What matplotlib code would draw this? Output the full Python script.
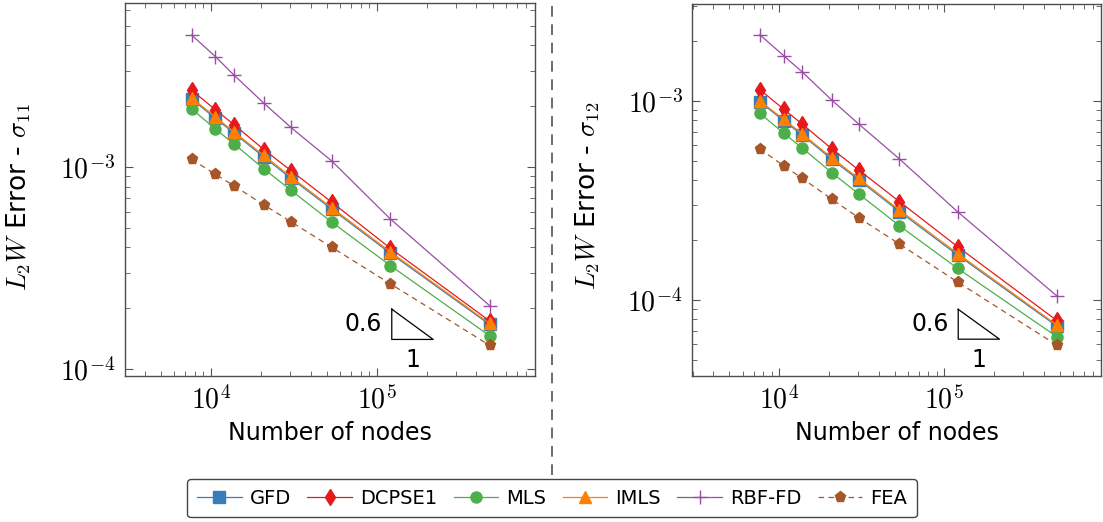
"""Convergence plots of L2W stress error vs number of nodes."""

import matplotlib

matplotlib.use("Agg")
import matplotlib.pyplot as plt
import numpy as np
from matplotlib.lines import Line2D
from matplotlib.ticker import FuncFormatter, LogLocator

plt.rcParams["font.family"] = ["DejaVu Sans"]
plt.rcParams["mathtext.fontset"] = "cm"

methods = ["GFD", "DCPSE1", "MLS", "IMLS", "RBF-FD", "FEA"]
nodes = [7640, 10640, 13770, 20840, 30340, 53580, 120800, 479700]

# sigma_11
s11_gfd = [2.17e-3, 1.74e-3, 1.47e-3, 1.12e-3, 8.80e-4, 6.18e-4, 3.74e-4, 1.66e-4]
s11_dcpse = [2.40e-3, 1.92e-3, 1.62e-3, 1.22e-3, 9.60e-4, 6.69e-4, 3.96e-4, 1.73e-4]
s11_mls = [1.94e-3, 1.54e-3, 1.30e-3, 9.80e-4, 7.67e-4, 5.33e-4, 3.25e-4, 1.46e-4]
s11_imls = [2.20e-3, 1.77e-3, 1.49e-3, 1.14e-3, 8.95e-4, 6.28e-4, 3.80e-4, 1.68e-4]
s11_rbf = [4.50e-3, 3.52e-3, 2.85e-3, 2.07e-3, 1.57e-3, 1.07e-3, 5.53e-4, 2.06e-4]
s11_fea = [1.09e-3, 9.20e-4, 8.07e-4, 6.49e-4, 5.36e-4, 4.00e-4, 2.64e-4, 1.31e-4]

# sigma_12
s12_gfd = [9.90e-4, 7.96e-4, 6.75e-4, 5.09e-4, 4.01e-4, 2.78e-4, 1.68e-4, 7.40e-5]
s12_dcpse = [1.14e-3, 9.10e-4, 7.66e-4, 5.75e-4, 4.50e-4, 3.12e-4, 1.85e-4, 7.90e-5]
s12_mls = [8.67e-4, 6.89e-4, 5.81e-4, 4.36e-4, 3.41e-4, 2.36e-4, 1.44e-4, 6.55e-5]
s12_imls = [1.00e-3, 8.10e-4, 6.85e-4, 5.18e-4, 4.08e-4, 2.83e-4, 1.71e-4, 7.50e-5]
s12_rbf = [2.15e-3, 1.69e-3, 1.40e-3, 1.01e-3, 7.66e-4, 5.11e-4, 2.77e-4, 1.05e-4]
s12_fea = [5.74e-4, 4.73e-4, 4.09e-4, 3.21e-4, 2.59e-4, 1.91e-4, 1.23e-4, 5.94e-5]

slope = 0.6

STYLES = {
    "GFD": dict(color="#377eb8", marker="s", ms=8.5, ls="-"),
    "DCPSE1": dict(color="#e41a1c", marker="d", ms=8.5, ls="-"),
    "MLS": dict(color="#4daf4a", marker="o", ms=8, ls="-"),
    "IMLS": dict(color="#ff7f00", marker="^", ms=8.5, ls="-"),
    "RBF-FD": dict(color="#984ea3", marker="+", ms=10, ls="-", mew=1.0),
    "FEA": dict(color="#a65628", marker="p", ms=8, ls=(0, (4.5, 3.5))),
}


def _decade(v, _pos):
    return f"$10^{{{int(round(np.log10(v)))}}}$"


def _slope_triangle(ax, x0, y_top, width_dec):
    x1 = x0 * 10 ** width_dec
    y_bot = y_top * (x0 / x1) ** slope
    ax.plot([x0, x0, x1, x0], [y_top, y_bot, y_bot, y_top], color="black", lw=0.9, zorder=5)
    ax.annotate(f"{slope:g}", (x0, np.sqrt(y_top * y_bot)), xytext=(-7, 0), textcoords="offset points",
                ha="right", va="center", fontsize=17)
    ax.annotate("1", (np.sqrt(x0 * x1), y_bot), xytext=(0, -6), textcoords="offset points",
                ha="center", va="top", fontsize=17)


def _panel(ax, series, ylabel, xlim, ylim, tri):
    for name, vals in zip(methods, series):
        st = STYLES[name]
        ax.plot(nodes, vals, color=st["color"], marker=st["marker"], ms=st["ms"], ls=st["ls"],
                lw=0.9, mew=st.get("mew", 1.0), label=name)
    ax.set_xscale("log")
    ax.set_yscale("log")
    ax.set_xlim(*xlim)
    ax.set_ylim(*ylim)
    ax.xaxis.set_major_locator(LogLocator(base=10))
    ax.yaxis.set_major_locator(LogLocator(base=10))
    ax.xaxis.set_major_formatter(FuncFormatter(_decade))
    ax.yaxis.set_major_formatter(FuncFormatter(_decade))
    ax.tick_params(which="both", direction="in", top=True, right=True, color="#555555")
    ax.tick_params(which="major", length=5.5, labelsize=20, pad=7)
    ax.tick_params(which="minor", length=3.5)
    for sp in ax.spines.values():
        sp.set_color("#4d4d4d")
        sp.set_linewidth(1.0)
    ax.set_xlabel("Number of nodes", fontsize=17, labelpad=5)
    ax.set_ylabel(ylabel, fontsize=19)
    _slope_triangle(ax, *tri)


fig = plt.figure(figsize=(11.03, 5.22), dpi=100)
ax1 = fig.add_axes([0.1133, 0.2797, 0.3717, 0.7146])
ax2 = fig.add_axes([0.6278, 0.2797, 0.3704, 0.7126])

_panel(ax1, [s11_gfd, s11_dcpse, s11_mls, s11_imls, s11_rbf, s11_fea],
       r"$L_2W$ Error - $\sigma_{11}$", (10 ** 3.481, 10 ** 5.955), (10 ** -4.035, 10 ** -2.188),
       (10 ** 5.091, 10 ** -3.704, 0.25))
_panel(ax2, [s12_gfd, s12_dcpse, s12_mls, s12_imls, s12_rbf, s12_fea],
       r"$L_2W$ Error - $\sigma_{12}$", (10 ** 3.475, 10 ** 5.95), (10 ** -4.382, 10 ** -2.513),
       (10 ** 5.085, 10 ** -4.047, 0.25))
ax1.yaxis.set_label_coords(-0.224, 0.48)
ax2.yaxis.set_label_coords(-0.2215, 0.485)

fig.add_artist(Line2D([0.5005, 0.5005], [0.09, 1.0], transform=fig.transFigure,
                      color="#444444", lw=1.1, ls=(0, (7, 5))))

handles, labels = ax1.get_legend_handles_labels()
leg = fig.legend(handles, labels, loc="upper center", bbox_to_anchor=(0.5005, 1 - 479 / 522), ncol=6,
                 fontsize=14, handlelength=2.3, handletextpad=0.4, columnspacing=0.85, borderpad=0.5,
                 borderaxespad=0, fancybox=True, framealpha=1, edgecolor="#444444")
leg.get_frame().set_linewidth(1.0)

fig.savefig("out.png", dpi=100)
